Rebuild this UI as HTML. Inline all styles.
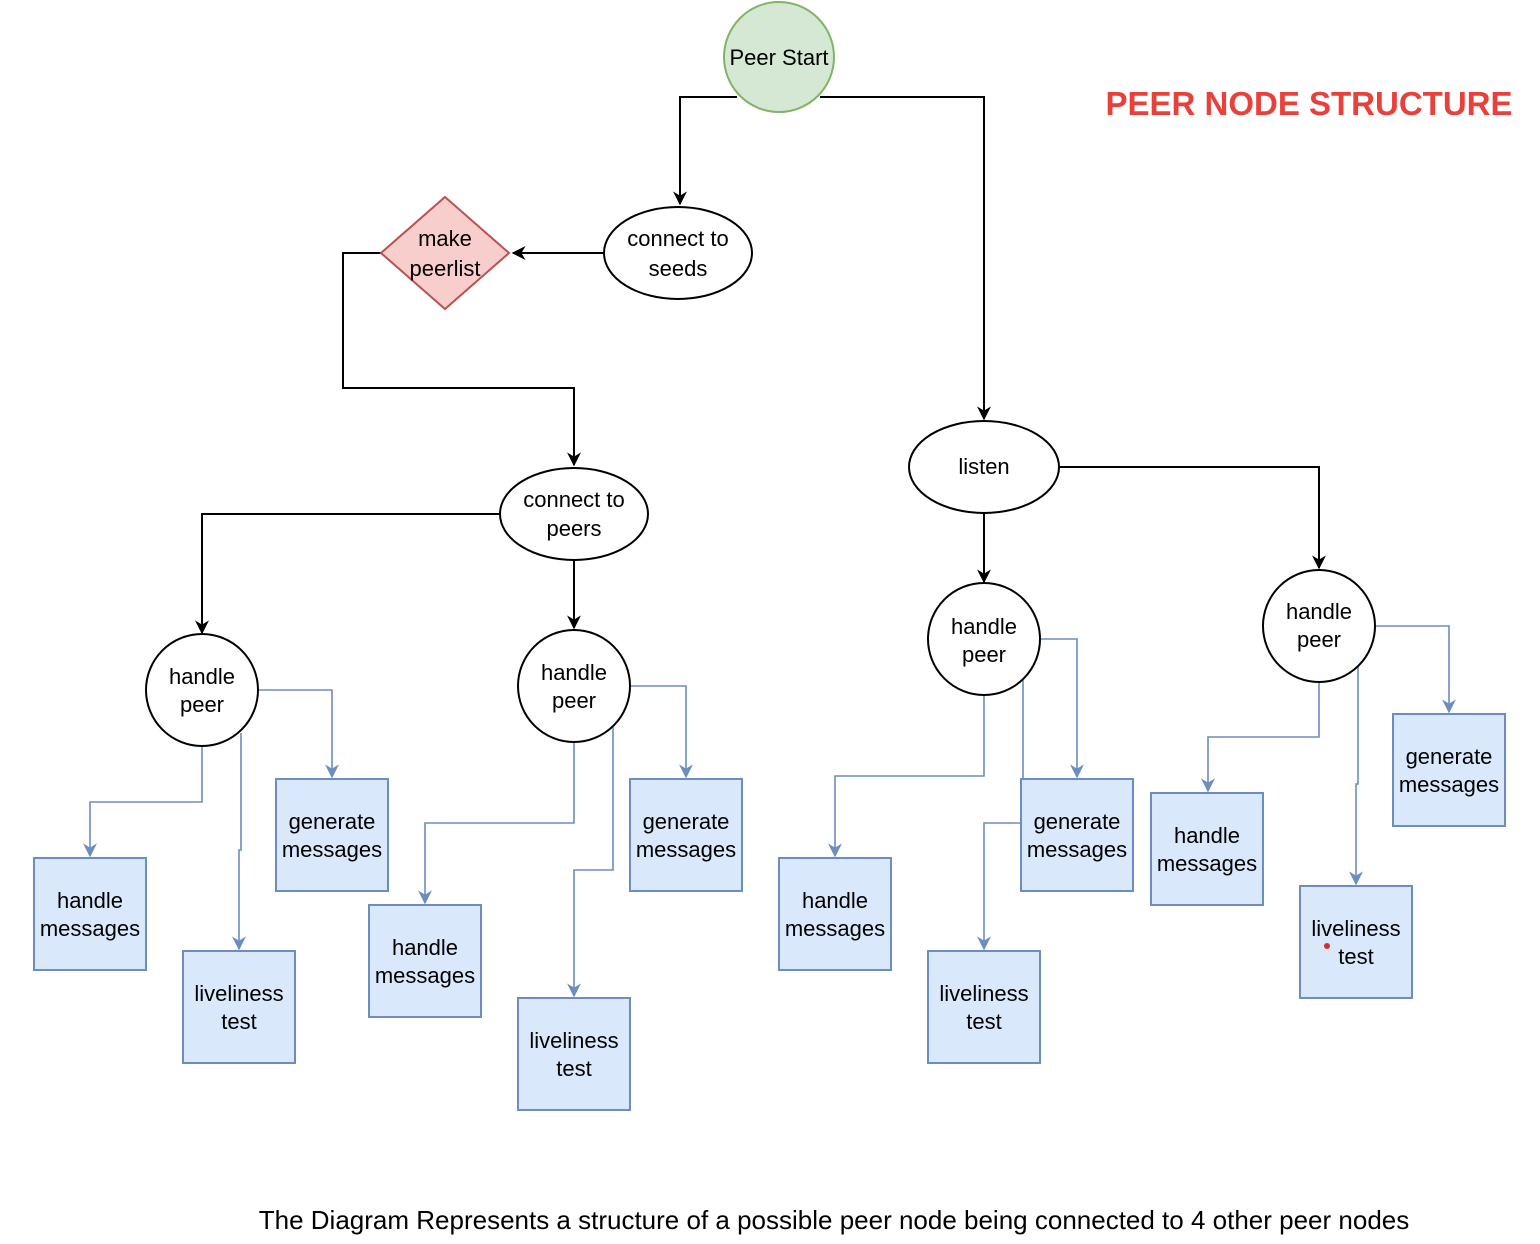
<!DOCTYPE html>
<html><head><meta charset="utf-8"><style>
html,body{margin:0;padding:0;background:#fff;}
svg{display:block;font-family:"Liberation Sans",Arial,sans-serif;}
</style></head><body>
<svg width="1540" height="1244" viewBox="0 0 1540 1244" xmlns="http://www.w3.org/2000/svg">
<defs>
<marker id="ab2" viewBox="0 0 10 10" refX="9" refY="5" markerWidth="14" markerHeight="14" orient="auto" markerUnits="userSpaceOnUse"><path d="M0,0 L10,5 L0,10 L3,5 z" fill="#000"/></marker>
<marker id="au" viewBox="0 0 10 10" refX="9" refY="5" markerWidth="14" markerHeight="14" orient="auto" markerUnits="userSpaceOnUse"><path d="M0,0 L10,5 L0,10 L3,5 z" fill="#6c8ebf"/></marker>
</defs>
<g fill="none" stroke="#000" stroke-width="2">
<polyline points="737,97 680,97 680,204" marker-end="url(#ab2)"/>
<polyline points="820,97 984,97 984,419" marker-end="url(#ab2)"/>
<polyline points="604,253 513,253" marker-end="url(#ab2)"/>
<polyline points="381,253 343,253 343,388 574,388 574,465" marker-end="url(#ab2)"/>
<polyline points="500,514 202,514 202,633" marker-end="url(#ab2)"/>
<polyline points="574,560 574,628" marker-end="url(#ab2)"/>
<polyline points="984,513 984,582" marker-end="url(#ab2)"/>
<polyline points="1058,467 1319,467 1319,568" marker-end="url(#ab2)"/>
</g>
<g fill="none" stroke="#6c8ebf" stroke-width="1.6">
<polyline points="258,690 332,690 332,777" marker-end="url(#au)"/>
<polyline points="202,746 202,802 90,802 90,856" marker-end="url(#au)"/>
<polyline points="241,733 241,850 239,850 239,949" marker-end="url(#au)"/>
<polyline points="630,686 686,686 686,777" marker-end="url(#au)"/>
<polyline points="574,742 574,823 425,823 425,903" marker-end="url(#au)"/>
<polyline points="613,727 613,870 574,870 574,996" marker-end="url(#au)"/>
<polyline points="1040,639 1077,639 1077,777" marker-end="url(#au)"/>
<polyline points="984,695 984,776 835,776 835,856" marker-end="url(#au)"/>
<polyline points="1023,680 1023,823 984,823 984,949" marker-end="url(#au)"/>
<polyline points="1375,626 1449,626 1449,712" marker-end="url(#au)"/>
<polyline points="1319,682 1319,737 1208,737 1208,791" marker-end="url(#au)"/>
<polyline points="1358,667 1358,784 1356,784 1356,884" marker-end="url(#au)"/>
</g>
<circle cx="779" cy="57" r="55" fill="#d5e8d4" stroke="#82b366" stroke-width="2"/>
<polygon points="445,197 509,253 445,309 381,253" fill="#f8cecc" stroke="#b85450" stroke-width="2"/>
<g fill="#fff" stroke="#000" stroke-width="2">
<ellipse cx="678" cy="253" rx="74" ry="46"/>
<ellipse cx="574" cy="514" rx="74" ry="46"/>
<ellipse cx="984" cy="467" rx="75" ry="46"/>
<circle cx="202" cy="690" r="56"/>
<circle cx="574" cy="686" r="56"/>
<circle cx="984" cy="639" r="56"/>
<circle cx="1319" cy="626" r="56"/>
</g>
<g fill="#dae8fc" stroke="#6c8ebf" stroke-width="2">
<rect x="34" y="858" width="112" height="112"/>
<rect x="183" y="951" width="112" height="112"/>
<rect x="276" y="779" width="112" height="112"/>
<rect x="369" y="905" width="112" height="112"/>
<rect x="518" y="998" width="112" height="112"/>
<rect x="630" y="779" width="112" height="112"/>
<rect x="779" y="858" width="112" height="112"/>
<rect x="1021" y="779" width="112" height="112"/>
<rect x="928" y="951" width="112" height="112"/>
<rect x="1393" y="714" width="112" height="112"/>
<rect x="1151" y="793" width="112" height="112"/>
<rect x="1300" y="886" width="112" height="112"/>
</g>
<circle cx="1327" cy="946" r="3" fill="#d32f2f"/>
<g font-size="22" fill="#000" text-anchor="middle">
<text x="779" y="65">Peer Start</text>
<text x="445" y="246">make</text><text x="445" y="276">peerlist</text>
<text x="678" y="246">connect to</text><text x="678" y="276">seeds</text>
<text x="574" y="507">connect to</text><text x="574" y="536">peers</text>
<text x="984" y="474">listen</text>
<text x="202" y="684">handle</text><text x="202" y="712">peer</text>
<text x="574" y="680">handle</text><text x="574" y="708">peer</text>
<text x="984" y="634">handle</text><text x="984" y="662">peer</text>
<text x="1319" y="619">handle</text><text x="1319" y="647">peer</text>
<text x="90" y="908">handle</text><text x="90" y="936">messages</text>
<text x="239" y="1001">liveliness</text><text x="239" y="1029">test</text>
<text x="332" y="829">generate</text><text x="332" y="857">messages</text>
<text x="425" y="955">handle</text><text x="425" y="983">messages</text>
<text x="574" y="1048">liveliness</text><text x="574" y="1076">test</text>
<text x="686" y="829">generate</text><text x="686" y="857">messages</text>
<text x="835" y="908">handle</text><text x="835" y="936">messages</text>
<text x="1077" y="829">generate</text><text x="1077" y="857">messages</text>
<text x="984" y="1001">liveliness</text><text x="984" y="1029">test</text>
<text x="1449" y="764">generate</text><text x="1449" y="792">messages</text>
<text x="1207" y="843">handle</text><text x="1207" y="871">messages</text>
<text x="1356" y="936">liveliness</text><text x="1356" y="964">test</text>
</g>
<text x="1309" y="115" font-size="33" font-weight="bold" fill="#e8403a" text-anchor="middle">PEER NODE STRUCTURE</text>
<text x="834" y="1229" font-size="26" fill="#000" text-anchor="middle">The Diagram Represents a structure of a possible peer node being connected to 4 other peer nodes</text>
</svg>
</body></html>
